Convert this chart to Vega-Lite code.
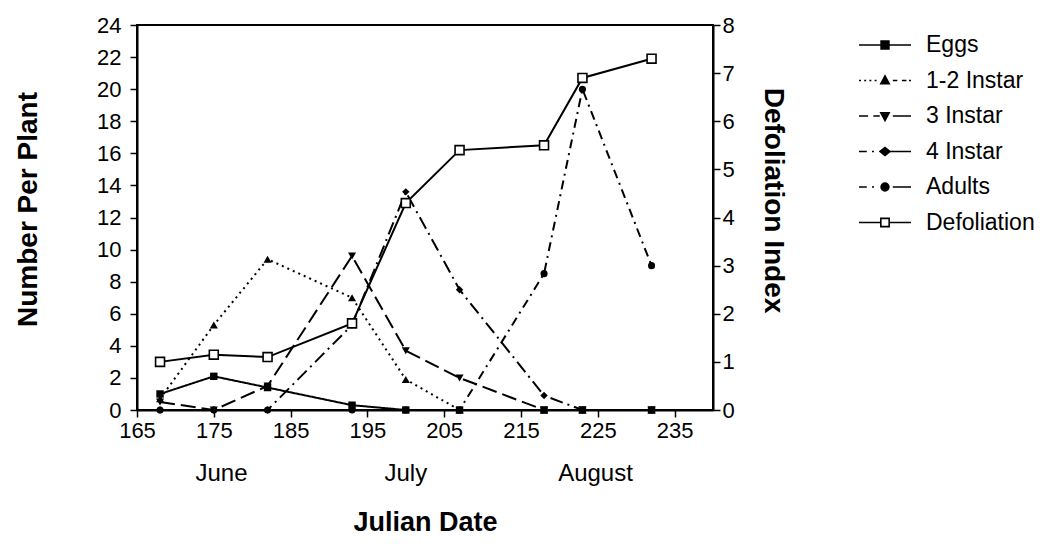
{
  "$schema": "https://vega.github.io/schema/vega-lite/v6.json",
  "width": 576,
  "height": 385,
  "autosize": {"type": "none"},
  "padding": {"left": 137, "top": 25, "right": 338, "bottom": 134},
  "background": "white",
  "config": {
    "font": "Liberation Sans",
    "view": {"stroke": "black", "strokeWidth": 2},
    "axis": {
      "grid": false,
      "domainColor": "black",
      "domainWidth": 2,
      "tickColor": "black",
      "tickWidth": 1.5,
      "tickSize": 7,
      "labelColor": "black",
      "labelFont": "Liberation Sans",
      "labelFontSize": 22,
      "titleColor": "black",
      "titleFont": "Liberation Sans",
      "titleFontSize": 28,
      "titleFontWeight": "bold"
    }
  },
  "data": {
    "values": [
      {"date": 168, "series": "Eggs", "value": 1.0},
      {"date": 175, "series": "Eggs", "value": 2.1},
      {"date": 182, "series": "Eggs", "value": 1.4},
      {"date": 193, "series": "Eggs", "value": 0.3},
      {"date": 200, "series": "Eggs", "value": 0},
      {"date": 207, "series": "Eggs", "value": 0},
      {"date": 218, "series": "Eggs", "value": 0},
      {"date": 223, "series": "Eggs", "value": 0},
      {"date": 232, "series": "Eggs", "value": 0},
      {"date": 168, "series": "1-2 Instar", "value": 0.7},
      {"date": 175, "series": "1-2 Instar", "value": 5.3},
      {"date": 182, "series": "1-2 Instar", "value": 9.4},
      {"date": 193, "series": "1-2 Instar", "value": 7.0},
      {"date": 200, "series": "1-2 Instar", "value": 1.9},
      {"date": 207, "series": "1-2 Instar", "value": 0},
      {"date": 218, "series": "1-2 Instar", "value": 0},
      {"date": 223, "series": "1-2 Instar", "value": 0},
      {"date": 232, "series": "1-2 Instar", "value": 0},
      {"date": 168, "series": "3 Instar", "value": 0.5},
      {"date": 175, "series": "3 Instar", "value": 0},
      {"date": 182, "series": "3 Instar", "value": 1.5},
      {"date": 193, "series": "3 Instar", "value": 9.6},
      {"date": 200, "series": "3 Instar", "value": 3.7},
      {"date": 207, "series": "3 Instar", "value": 2.0},
      {"date": 218, "series": "3 Instar", "value": 0},
      {"date": 223, "series": "3 Instar", "value": 0},
      {"date": 232, "series": "3 Instar", "value": 0},
      {"date": 168, "series": "4 Instar", "value": 0},
      {"date": 175, "series": "4 Instar", "value": 0},
      {"date": 182, "series": "4 Instar", "value": 0},
      {"date": 193, "series": "4 Instar", "value": 5.3},
      {"date": 200, "series": "4 Instar", "value": 13.6},
      {"date": 207, "series": "4 Instar", "value": 7.5},
      {"date": 218, "series": "4 Instar", "value": 0.9},
      {"date": 223, "series": "4 Instar", "value": 0},
      {"date": 232, "series": "4 Instar", "value": 0},
      {"date": 168, "series": "Adults", "value": 0},
      {"date": 175, "series": "Adults", "value": 0},
      {"date": 182, "series": "Adults", "value": 0},
      {"date": 193, "series": "Adults", "value": 0},
      {"date": 200, "series": "Adults", "value": 0},
      {"date": 207, "series": "Adults", "value": 0},
      {"date": 218, "series": "Adults", "value": 8.5},
      {"date": 223, "series": "Adults", "value": 20.0},
      {"date": 232, "series": "Adults", "value": 9.0},
      {"date": 168, "series": "Defoliation", "value": 1.0},
      {"date": 175, "series": "Defoliation", "value": 1.15},
      {"date": 182, "series": "Defoliation", "value": 1.1},
      {"date": 193, "series": "Defoliation", "value": 1.8},
      {"date": 200, "series": "Defoliation", "value": 4.3},
      {"date": 207, "series": "Defoliation", "value": 5.4},
      {"date": 218, "series": "Defoliation", "value": 5.5},
      {"date": 223, "series": "Defoliation", "value": 6.9},
      {"date": 232, "series": "Defoliation", "value": 7.3}
    ]
  },
  "encoding": {
    "x": {
      "field": "date",
      "type": "quantitative",
      "scale": {"domain": [165, 240], "nice": false, "zero": false},
      "axis": {
        "values": [165, 175, 185, 195, 205, 215, 225, 235],
        "labelPadding": 3,
        "labelFlush": false,
        "title": "Julian Date",
        "titleFontSize": 27,
        "titleY": 120,
        "titleBaseline": "alphabetic"
      }
    }
  },
  "layer": [
    {
      "encoding": {
        "y": {
          "field": "value",
          "type": "quantitative",
          "scale": {"domain": [0, 24], "nice": false},
          "axis": {
            "values": [0, 2, 4, 6, 8, 10, 12, 14, 16, 18, 20, 22, 24],
            "labelPadding": 9,
            "title": "Number Per Plant",
            "titleX": -109,
            "titleY": 184,
            "titleBaseline": "middle"
          }
        }
      },
      "layer": [
        {
          "transform": [{"filter": "datum.series !== 'Defoliation'"}],
          "mark": {"type": "line", "color": "black", "strokeWidth": 2},
          "encoding": {
            "strokeDash": {
              "field": "series",
              "type": "nominal",
              "scale": {
                "domain": ["Eggs", "1-2 Instar", "3 Instar", "4 Instar", "Adults"],
                "range": [[1, 0], [2, 4], [15, 6], [13, 5, 2, 5], [9, 5, 2, 5]]
              },
              "legend": null
            }
          }
        },
        {
          "transform": [{"filter": "datum.series === 'Eggs'"}],
          "mark": {"type": "point", "shape": "square", "filled": true, "color": "black", "opacity": 1, "size": 55}
        },
        {
          "transform": [{"filter": "datum.series === '1-2 Instar'"}],
          "mark": {"type": "point", "shape": "triangle-up", "filled": true, "color": "black", "opacity": 1, "size": 65}
        },
        {
          "transform": [{"filter": "datum.series === '3 Instar'"}],
          "mark": {"type": "point", "shape": "triangle-down", "filled": true, "color": "black", "opacity": 1, "size": 65}
        },
        {
          "transform": [{"filter": "datum.series === '4 Instar'"}],
          "mark": {"type": "point", "shape": "diamond", "filled": true, "color": "black", "opacity": 1, "size": 55}
        },
        {
          "transform": [{"filter": "datum.series === 'Adults'"}],
          "mark": {"type": "point", "shape": "circle", "filled": true, "color": "black", "opacity": 1, "size": 50}
        },
        {
          "transform": [{"filter": "false"}],
          "mark": {"type": "point", "filled": true, "stroke": "black", "strokeWidth": 1.6, "opacity": 1},
          "encoding": {
            "shape": {
              "field": "series",
              "type": "nominal",
              "scale": {
                "domain": ["Eggs", "1-2 Instar", "3 Instar", "4 Instar", "Adults", "Defoliation"],
                "range": [
                  "M-2,0H2M-0.3,-0.3H0.3V0.3H-0.3Z",
                  "M-2,0H-1.85M-1.6,0H-1.45M-1.2,0H-1.05M-0.8,0H-0.65M0,-0.35L0.32,0.25H-0.32ZM0.6,0H0.95M1.3,0H1.65M1.85,0H2",
                  "M-2,0H-1.3M-0.9,0H-0.4M-0.32,-0.25H0.32L0,0.35ZM0.6,0H2",
                  "M-2,0H-1.4M-1,0H-0.85M-0.38,0L0,-0.3L0.38,0L0,0.3ZM0.38,0H2",
                  "M-2,0H-1.4M-1,0H-0.85M-0.3,0A0.3,0.3,0,1,0,0.3,0A0.3,0.3,0,1,0,-0.3,0ZM0.6,0H2",
                  "M-2,0H-0.32M0.32,0H2M-0.32,-0.32H0.32V0.32H-0.32Z"
                ]
              },
              "legend": {
                "title": null,
                "orient": "none",
                "legendX": 734,
                "legendY": 6,
                "padding": 0,
                "symbolSize": 676,
                "symbolStrokeColor": "black",
                "symbolStrokeWidth": 1.6,
                "symbolOpacity": 1,
                "rowPadding": 9.5,
                "labelOffset": 27,
                "labelFont": "Liberation Sans",
                "labelFontSize": 23,
                "labelColor": "black",
                "encode": {"symbols": {"update": {"stroke": {"value": "black"}, "strokeWidth": {"value": 1.6}, "opacity": {"value": 1}}}}
              }
            },
            "fill": {
              "field": "series",
              "type": "nominal",
              "scale": {
                "domain": ["Eggs", "1-2 Instar", "3 Instar", "4 Instar", "Adults", "Defoliation"],
                "range": ["black", "black", "black", "black", "black", "white"]
              },
              "legend": {
                "title": null,
                "orient": "none",
                "legendX": 734,
                "legendY": 6,
                "padding": 0,
                "symbolSize": 676,
                "symbolStrokeColor": "black",
                "symbolStrokeWidth": 1.6,
                "symbolOpacity": 1,
                "rowPadding": 9.5,
                "labelOffset": 27,
                "labelFont": "Liberation Sans",
                "labelFontSize": 23,
                "labelColor": "black",
                "encode": {"symbols": {"update": {"stroke": {"value": "black"}, "strokeWidth": {"value": 1.6}, "opacity": {"value": 1}}}}
              }
            }
          }
        }
      ]
    },
    {
      "transform": [{"filter": "datum.series === 'Defoliation'"}],
      "encoding": {
        "y": {
          "field": "value",
          "type": "quantitative",
          "scale": {"domain": [0, 8], "nice": false},
          "axis": {
            "orient": "right",
            "values": [0, 1, 2, 3, 4, 5, 6, 7, 8],
            "labelPadding": 2,
            "title": "Defoliation Index",
            "titleX": 59,
            "titleY": 175,
            "titleBaseline": "middle"
          }
        }
      },
      "layer": [
        {"mark": {"type": "line", "color": "black", "strokeWidth": 2}},
        {"mark": {"type": "point", "shape": "square", "filled": true, "fill": "white", "stroke": "black", "strokeWidth": 1.6, "opacity": 1, "size": 80}}
      ]
    },
    {
      "data": {"values": [{"month": "June", "date": 176}, {"month": "July", "date": 200}, {"month": "August", "date": 224.7}]},
      "mark": {"type": "text", "font": "Liberation Sans", "fontSize": 24, "baseline": "middle", "align": "center", "fill": "black"},
      "encoding": {
        "y": {"datum": -4.0, "type": "quantitative", "scale": {"domain": [0, 24], "nice": false}, "axis": null},
        "text": {"field": "month", "type": "nominal"}
      }
    }
  ],
  "resolve": {"scale": {"y": "independent"}}
}
